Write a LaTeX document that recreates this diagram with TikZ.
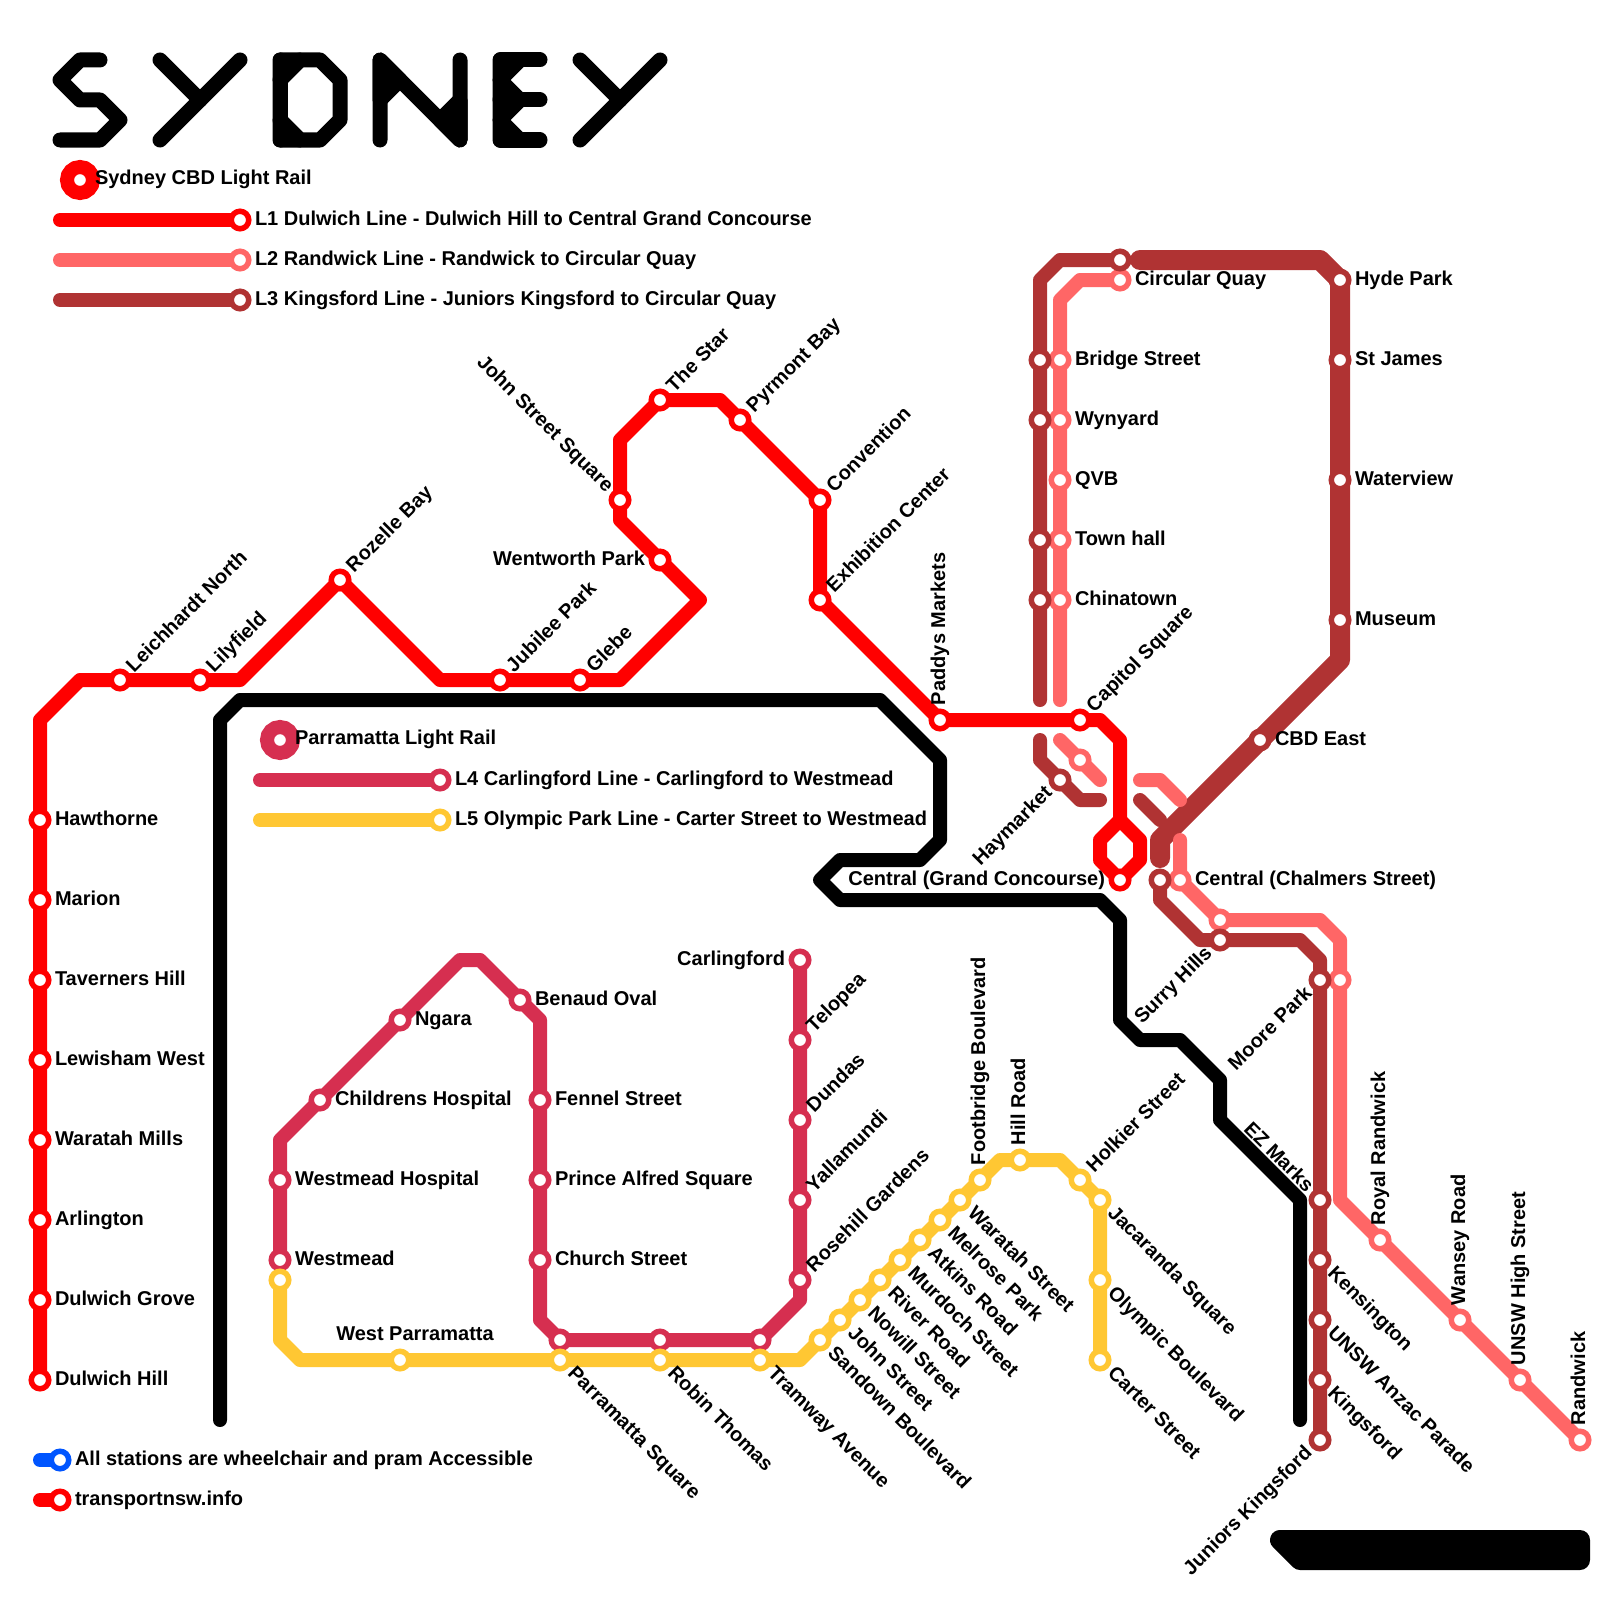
\documentclass[tikz,border=0pt]{standalone}
\usepackage{fontspec}
\setmainfont{Liberation Sans}
\usetikzlibrary{calc}
\pgfdeclarelayer{lines}
\pgfsetlayers{lines,main}
\definecolor{lred}{HTML}{FF0000}
\definecolor{lpink}{HTML}{FF6666}
\definecolor{lbrown}{HTML}{B03333}
\definecolor{lcrim}{HTML}{D62F50}
\definecolor{lgold}{HTML}{FFC733}
\definecolor{lblue}{HTML}{0055FF}
\tikzset{
  stn/.style={circle,fill=white,inner sep=0pt,outer sep=0pt,minimum size=17.5pt,line width=5.5pt},
  ring/.style={circle,fill=white,inner sep=0pt,outer sep=0pt,minimum size=26pt,line width=14pt},
  lab/.style={inner sep=0pt,outer sep=0pt,text=black,font=\bfseries\fontsize{20}{22}\selectfont},
  route/.style={line width=14pt,line cap=round,line join=round},
  wide/.style={line width=20pt,line cap=round,line join=round},
  glyph/.style={line width=15pt,line cap=round,line join=round,draw=black},
  glyphfill/.style={fill=black,draw=black,line width=15pt,line join=round}
}
% id, x, y, colour, angle, text -- text after the station
\newcommand{\stR}[6]{\node[stn,draw=#4] (#1) at (#2,#3) {};
  \node[lab,rotate=#5,yshift=-2.5pt,anchor=mid west] (#1-l) at ($(#2,#3)+({0-(#5)}:15)$) {#6};}
% text before the station
\newcommand{\stL}[6]{\node[stn,draw=#4] (#1) at (#2,#3) {};
  \node[lab,rotate=#5,yshift=-2.5pt,anchor=mid east] (#1-l) at ($(#2,#3)+({180-(#5)}:15)$) {#6};}
\newcommand{\stN}[4]{\node[stn,draw=#4] (#1) at (#2,#3) {};}
\begin{document}
\begin{tikzpicture}[x=1pt,y=-1pt]
\begin{pgfonlayer}{lines}
\path[use as bounding box,fill=white] (0,0) rectangle (1600,1600);
\end{pgfonlayer}

% ---------- legend
\node[ring,draw=lred] (legcbd) at (80,180) {};
\node[lab,anchor=mid west] (legcbd-l) at (95,182) {Sydney CBD Light Rail};
\coordinate (k1) at (60,220); \stR{leg1}{240}{220}{lred}{0}{L1 Dulwich Line - Dulwich Hill to Central Grand Concourse}
\coordinate (k2) at (60,260); \stR{leg2}{240}{260}{lpink}{0}{L2 Randwick Line - Randwick to Circular Quay}
\coordinate (k3) at (60,300); \stR{leg3}{240}{300}{lbrown}{0}{L3 Kingsford Line - Juniors Kingsford to Circular Quay}
\node[ring,draw=lcrim] (legpar) at (280,740) {};
\node[lab,anchor=mid west] (legpar-l) at (295,742) {Parramatta Light Rail};
\coordinate (k4) at (260,780); \stR{leg4}{440}{780}{lcrim}{0}{L4 Carlingford Line - Carlingford to Westmead}
\coordinate (k5) at (260,820); \stR{leg5}{440}{820}{lgold}{0}{L5 Olympic Park Line - Carter Street to Westmead}
\coordinate (k6) at (40,1460); \stR{leg6}{60}{1460}{lblue}{0}{All stations are wheelchair and pram Accessible}
\coordinate (k7) at (40,1500); \stR{leg7}{60}{1500}{lred}{0}{transportnsw.info}

% ---------- L1
\stR{haw}{40}{820}{lred}{0}{Hawthorne}
\stR{mar}{40}{900}{lred}{0}{Marion}
\stR{tav}{40}{980}{lred}{0}{Taverners Hill}
\stR{lew}{40}{1060}{lred}{0}{Lewisham West}
\stR{wat}{40}{1140}{lred}{0}{Waratah Mills}
\stR{arl}{40}{1220}{lred}{0}{Arlington}
\stR{dgr}{40}{1300}{lred}{0}{Dulwich Grove}
\stR{dhi}{40}{1380}{lred}{0}{Dulwich Hill}
\stR{lei}{120}{680}{lred}{45}{Leichhardt North}
\stR{lil}{200}{680}{lred}{45}{Lilyfield}
\stR{roz}{340}{580}{lred}{45}{Rozelle Bay}
\stR{jub}{500}{680}{lred}{45}{Jubilee Park}
\stR{gle}{580}{680}{lred}{45}{Glebe}
\stL{wen}{660}{560}{lred}{0}{Wentworth Park}
\stL{joh}{620}{500}{lred}{-45}{John Street Square}
\stR{sta}{660}{400}{lred}{45}{The Star}
\stR{pyr}{740}{420}{lred}{45}{Pyrmont Bay}
\stR{con}{820}{500}{lred}{45}{Convention}
\stR{exh}{820}{600}{lred}{45}{Exhibition Center}
\stR{pad}{940}{720}{lred}{90}{Paddys Markets}
\stR{cap}{1080}{720}{lred}{45}{Capitol Square}
\stL{cgc}{1120}{880}{lred}{0}{Central (Grand Concourse)}

% ---------- L2
\stR{cqp}{1120}{280}{lpink}{0}{Circular Quay}
\stR{bri}{1060}{360}{lpink}{0}{Bridge Street}
\stR{wyn}{1060}{420}{lpink}{0}{Wynyard}
\stR{qvb}{1060}{480}{lpink}{0}{QVB}
\stR{tow}{1060}{540}{lpink}{0}{Town hall}
\stR{chi}{1060}{600}{lpink}{0}{Chinatown}
\stN{p1}{1080}{760}{lpink}
\stR{ccs}{1180}{880}{lpink}{0}{Central (Chalmers Street)}
\stN{p2}{1220}{920}{lpink}
\stN{p3}{1340}{980}{lpink}
\stR{roy}{1380}{1240}{lpink}{90}{Royal Randwick}
\stR{wan}{1460}{1320}{lpink}{90}{Wansey Road}
\stR{uhs}{1520}{1380}{lpink}{90}{UNSW High Street}
\stR{ran}{1580}{1440}{lpink}{90}{Randwick}

% ---------- L3
\stN{cqb}{1120}{260}{lbrown}
\stN{b1}{1040}{360}{lbrown}
\stN{b2}{1040}{420}{lbrown}
\stN{b3}{1040}{540}{lbrown}
\stN{b4}{1040}{600}{lbrown}
\stL{hay}{1060}{780}{lbrown}{45}{Haymarket}
\stN{b5}{1160}{880}{lbrown}
\stL{sur}{1220}{940}{lbrown}{45}{Surry Hills}
\stL{moo}{1320}{980}{lbrown}{45}{Moore Park}
\stL{ezm}{1320}{1200}{lbrown}{-45}{EZ Marks}
\stR{ken}{1320}{1260}{lbrown}{-45}{Kensington}
\stR{uap}{1320}{1320}{lbrown}{-45}{UNSW Anzac Parade}
\stR{kin}{1320}{1380}{lbrown}{-45}{Kingsford}
\stL{jun}{1320}{1440}{lbrown}{45}{Juniors Kingsford}
\stR{hyd}{1340}{280}{lbrown}{0}{Hyde Park}
\stR{stj}{1340}{360}{lbrown}{0}{St James}
\stR{wtv}{1340}{480}{lbrown}{0}{Waterview}
\stR{mus}{1340}{620}{lbrown}{0}{Museum}
\stR{cbd}{1260}{740}{lbrown}{0}{CBD East}

% ---------- L4
\stR{wes}{280}{1260}{lcrim}{0}{Westmead}
\stR{weh}{280}{1180}{lcrim}{0}{Westmead Hospital}
\stR{chh}{320}{1100}{lcrim}{0}{Childrens Hospital}
\stR{nga}{400}{1020}{lcrim}{0}{Ngara}
\stR{ben}{520}{1000}{lcrim}{0}{Benaud Oval}
\stR{fen}{540}{1100}{lcrim}{0}{Fennel Street}
\stR{pri}{540}{1180}{lcrim}{0}{Prince Alfred Square}
\stR{chu}{540}{1260}{lcrim}{0}{Church Street}
\stN{c1}{560}{1340}{lcrim}
\stN{c2}{660}{1340}{lcrim}
\stN{c3}{760}{1340}{lcrim}
\stR{ros}{800}{1280}{lcrim}{45}{Rosehill Gardens}
\stR{yal}{800}{1200}{lcrim}{45}{Yallamundi}
\stR{dun}{800}{1120}{lcrim}{45}{Dundas}
\stR{tel}{800}{1040}{lcrim}{45}{Telopea}
\stL{car}{800}{960}{lcrim}{0}{Carlingford}

% ---------- L5
\stN{g0}{280}{1280}{lgold}
\stN{wpa}{400}{1360}{lgold}
\node[lab,anchor=mid] (wpa-l) at (415,1338) {West Parramatta};
\stR{pas}{560}{1360}{lgold}{-45}{Parramatta Square}
\stR{rob}{660}{1360}{lgold}{-45}{Robin Thomas}
\stR{tra}{760}{1360}{lgold}{-45}{Tramway Avenue}
\stR{san}{820}{1340}{lgold}{-45}{Sandown Boulevard}
\stR{jst}{840}{1320}{lgold}{-45}{John Street}
\stR{now}{860}{1300}{lgold}{-45}{Nowill Street}
\stR{riv}{880}{1280}{lgold}{-45}{River Road}
\stR{mur}{900}{1260}{lgold}{-45}{Murdoch Street}
\stR{atk}{920}{1240}{lgold}{-45}{Atkins Road}
\stR{mel}{940}{1220}{lgold}{-45}{Melrose Park}
\stR{wst}{960}{1200}{lgold}{-45}{Waratah Street}
\stR{foo}{980}{1180}{lgold}{90}{Footbridge Boulevard}
\stR{hil}{1020}{1160}{lgold}{90}{Hill Road}
\stR{hol}{1080}{1180}{lgold}{45}{Holkier Street}
\stR{jac}{1100}{1200}{lgold}{-45}{Jacaranda Square}
\stR{oly}{1100}{1280}{lgold}{-45}{Olympic Boulevard}
\stR{cst}{1100}{1360}{lgold}{-45}{Carter Street}

\begin{pgfonlayer}{lines}
% title
\draw[glyph] (100,60)--(80,60)--(60,80)--(80,100)--(100,100)--(120,120)--(100,140)--(60,140);
\draw[glyph] (160,60)--(200,100); \draw[glyph] (240,60)--(160,140);
\draw[glyph] (300,60)--(320,60)--(340,80)--(340,120)--(320,140)--(300,140)--(280,120)--(280,80)--cycle;
\filldraw[glyphfill] (280,60)--(300,60)--(280,80)--cycle;
\filldraw[glyphfill] (280,140)--(300,140)--(280,120)--cycle;
\draw[glyph] (280,60)--(280,140);
\draw[glyph] (380,140)--(380,60)--(460,140)--(460,60);
\filldraw[glyphfill] (380,60)--(380,100)--(400,80)--cycle;
\filldraw[glyphfill] (460,140)--(460,100)--(440,120)--cycle;
\draw[glyph] (540,60)--(500,60)--(500,140)--(540,140); \draw[glyph] (500,100)--(540,100);
\filldraw[glyphfill] (500,60)--(520,60)--(500,80)--cycle;
\filldraw[glyphfill] (500,80)--(520,100)--(500,120)--cycle;
\filldraw[glyphfill] (500,120)--(520,140)--(500,140)--cycle;
\draw[glyph] (580,60)--(620,100); \draw[glyph] (660,60)--(580,140);

% black line and block
\draw[route,black] (220,1420)--(220,720)--(240,700)--(880,700)--(940,760)--(940,840)--(920,860)--(840,860)--(820,880)--(840,900)--(1100,900)--(1120,920)--(1120,1020)--(1140,1040)--(1180,1040)--(1220,1080)--(1220,1120)--(1300,1200)--(1300,1420);
\filldraw[black,line width=20pt,line join=round] (1280,1540)--(1580,1540)--(1580,1560)--(1300,1560)--cycle;

% legend bars
\draw[route,lred] (k1)--(leg1.center);
\draw[route,lpink] (k2)--(leg2.center);
\draw[route,lbrown] (k3)--(leg3.center);
\draw[route,lcrim] (k4)--(leg4.center);
\draw[route,lgold] (k5)--(leg5.center);
\draw[route,lblue] (k6)--(leg6.center);
\draw[route,lred] (k7)--(leg7.center);

% L3
\draw[route,lbrown] (1040,700)--(1040,280)--(1060,260)--(cqb.center);
\draw[wide,lbrown] (1140,260)--(1320,260)--(hyd.center)--(mus.center)--(1340,660)--(1160,840)--(1160,858);
\draw[route,lbrown] (1140,800)--(1160,820);
\draw[route,lbrown] (1040,740)--(1040,760)--(1080,800)--(1100,800);
\draw[route,lbrown] (b5.center)--(1160,900)--(1200,940)--(1300,940)--(1320,960)--(jun.center);

% L2
\draw[route,lpink] (cqp.center)--(1080,280)--(1060,300)--(1060,700);
\draw[route,lpink] (1060,740)--(1100,780);
\draw[route,lpink] (1140,780)--(1160,780)--(1180,800);
\draw[route,lpink] (1180,840)--(ccs.center)--(p2.center)--(1320,920)--(1340,940)--(1340,1200)--(ran.center);

% L1
\draw[route,lred] (dhi.center)--(40,720)--(80,680)--(240,680)--(roz.center)--(440,680)--(620,680)--(700,600)--(620,520)--(620,440)--(sta.center)--(720,400)--(con.center)--(exh.center)--(pad.center)--(1100,720)--(1120,740)--(1120,820);
\draw[route,lred] (1120,820)--(1100,840)--(1100,860)--(cgc.center)--(1140,860)--(1140,840)--cycle;

% L4
\draw[route,lcrim] (wes.center)--(280,1140)--(460,960)--(480,960)--(540,1020)--(540,1320)--(c1.center)--(c3.center)--(800,1300)--(car.center);

% L5
\draw[route,lgold] (g0.center)--(280,1340)--(300,1360)--(800,1360)--(foo.center)--(1000,1160)--(1060,1160)--(jac.center)--(cst.center);
\end{pgfonlayer}
\end{tikzpicture}
\end{document}
